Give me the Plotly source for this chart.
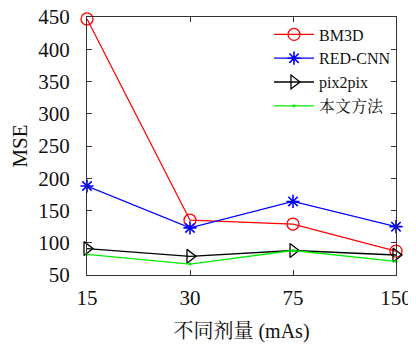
import plotly.graph_objects as go

categories = ["15", "30", "75", "150"]
bm3d = [447, 135, 129, 87]
red_cnn = [188, 123, 164, 125]
pix2pix = [91, 79, 88, 81]
ours = [82, 67, 88, 71]
series_names = ["BM3D", "RED-CNN", "pix2pix", "本文方法"]

serif = '"Liberation Serif", "Noto Serif CJK SC", "Noto Sans CJK SC", serif'
fig = go.Figure()
fig.add_trace(go.Scatter(x=categories, y=bm3d, name=series_names[0], mode="lines+markers",
                         line=dict(color="#ff0000", width=1.3),
                         marker=dict(symbol="circle-open", size=12, color="#ff0000", line=dict(width=1.3)),
                         cliponaxis=False))
fig.add_trace(go.Scatter(x=categories, y=red_cnn, name=series_names[1], mode="lines+markers",
                         line=dict(color="#0000ff", width=1.3),
                         marker=dict(symbol="asterisk-open", size=11, color="#0000ff", line=dict(width=1.6, color="#0000ff")),
                         cliponaxis=False))
fig.add_trace(go.Scatter(x=categories, y=pix2pix, name=series_names[2], mode="lines+markers",
                         line=dict(color="#000000", width=1.3),
                         marker=dict(symbol="triangle-right-open", size=12, color="#000000", line=dict(width=1.3)),
                         cliponaxis=False))
fig.add_trace(go.Scatter(x=categories, y=ours, name=series_names[3], mode="lines+markers",
                         line=dict(color="#00ee00", width=1.3),
                         marker=dict(symbol="circle", size=3, color="#00ee00"),
                         cliponaxis=False))

axis_common = dict(showline=True, linecolor="#333333", linewidth=1.3, mirror="ticks",
                   ticks="inside", ticklen=5, tickcolor="#333333", showgrid=False, zeroline=False,
                   automargin=False, ticklabeloverflow="allow")

# page body has an 8px default margin, so the figure is sized/placed to compensate
fig.update_layout(
    width=408, height=337,
    margin=dict(l=79, r=20, t=9, b=70, autoexpand=False),
    paper_bgcolor="white", plot_bgcolor="white",
    font=dict(family=serif, size=21, color="#111111"),
    xaxis=dict(type="category", range=[0, 3], ticklabelstandoff=4,
               title=dict(text="不同剂量 (mAs)", standoff=14, font=dict(family=serif, size=20)),
               **axis_common),
    yaxis=dict(range=[50, 450], dtick=50, ticklabelstandoff=12,
               title=dict(text="MSE", standoff=4, font=dict(family=serif, size=21)), **axis_common),
    legend=dict(x=1.0, y=0.998, xanchor="right", yanchor="top", bgcolor="rgba(255,255,255,0)",
                font=dict(family=serif, size=16), tracegroupgap=0, itemwidth=40),
    showlegend=True,
)

fig.write_html("out.html")
